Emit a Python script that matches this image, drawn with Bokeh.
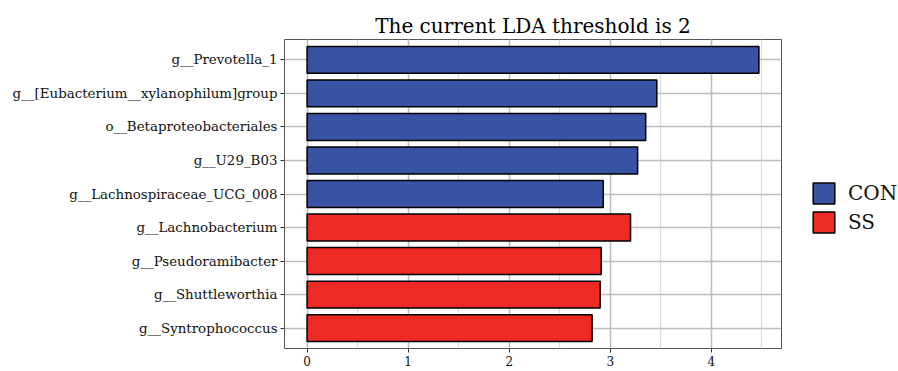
from bokeh.plotting import figure
from bokeh.layouts import row
from bokeh.models import (FactorRange, Range1d, SingleIntervalTicker, Legend, LegendItem,
                          ColumnDataSource)
from bokeh.embed import file_html
from bokeh.resources import INLINE

# Data (top to bottom as in the chart)
taxa = ["g__Prevotella_1", "g__[Eubacterium__xylanophilum]group", "o__Betaproteobacteriales",
        "g__U29_B03", "g__Lachnospiraceae_UCG_008", "g__Lachnobacterium",
        "g__Pseudoramibacter", "g__Shuttleworthia", "g__Syntrophococcus"]
lda = [4.47, 3.46, 3.35, 3.27, 2.93, 3.20, 2.91, 2.90, 2.82]
group = ["CON", "CON", "CON", "CON", "CON", "SS", "SS", "SS", "SS"]
groups = ["CON", "SS"]
colors = {"CON": "#3953A4", "SS": "#EE2A24"}
x_ticks = [0, 1, 2, 3, 4]

FONT = "DejaVu Serif"

p = figure(width=782, height=371, output_backend="svg", toolbar_location=None,
           y_range=FactorRange(factors=list(reversed(taxa)), range_padding=0.11,
                               range_padding_units="absolute"),
           x_range=Range1d(-0.2235, 4.6935),
           min_border_left=284, min_border_right=1, min_border_top=39, min_border_bottom=23,
           title="The current LDA threshold is 2")

sources = {}
for g in groups:
    sources[g] = ColumnDataSource(dict(y=[t for t, gg in zip(taxa, group) if gg == g],
                                       right=[v for v, gg in zip(lda, group) if gg == g]))
    p.hbar(y="y", left=0, right="right", height=0.8, source=sources[g],
           fill_color=colors[g], line_color="black", line_width=1.5)

p.title.text_font = FONT
p.title.text_font_size = "20px"
p.title.text_font_style = "normal"
p.title.align = "center"
p.title.text_color = "black"
p.title.standoff = 4

p.xaxis.ticker = SingleIntervalTicker(interval=1, num_minor_ticks=2)
p.xaxis.minor_tick_line_color = None
p.xaxis.axis_line_color = None
p.yaxis.axis_line_color = None
for ax in (p.xaxis[0], p.yaxis[0]):
    ax.major_tick_line_color = "#333333"
    ax.major_tick_out = 4
    ax.major_tick_in = 0
    ax.major_label_text_font = FONT
    ax.major_label_text_color = "#111111"
    ax.major_label_standoff = 3
p.xaxis.major_label_text_font_size = "12px"
p.yaxis.major_label_text_font_size = "13.4px"

p.xgrid.grid_line_color = "#bdbdbd"
p.xgrid.grid_line_width = 1.5
p.xgrid.minor_grid_line_color = "#dcdcdc"
p.xgrid.minor_grid_line_width = 1.2
p.ygrid.grid_line_color = "#bdbdbd"
p.ygrid.grid_line_width = 1.5
p.outline_line_color = "#555555"
p.outline_line_width = 1

# Legend panel (separate figure to the right of the plot)
lg = figure(width=116, height=371, output_backend="svg", toolbar_location=None,
            x_range=Range1d(0, 1), y_range=FactorRange(factors=list(reversed(taxa))),
            x_axis_location=None, y_axis_location=None,
            min_border_left=0, min_border_right=0, min_border_top=0, min_border_bottom=0)
lg.outline_line_color = None
lg.xgrid.visible = False
lg.ygrid.visible = False
items = []
for g in groups:
    r = lg.hbar(y="y", left=0, right="right", height=0.8, source=sources[g],
                fill_color=colors[g], line_color="black", line_width=1.5, visible=False)
    items.append(LegendItem(label=g, renderers=[r]))
legend = Legend(items=items, location=(28, 113), orientation="vertical",
                glyph_width=27, glyph_height=26, spacing=3, padding=0, margin=0,
                label_standoff=11, label_text_align="left",
                label_text_font=FONT, label_text_font_size="20px",
                label_text_color="#111111",
                border_line_color=None, background_fill_alpha=0)
lg.add_layout(legend, "center")

layout = row(p, lg, spacing=0)
open("out.html", "w").write(file_html(layout, INLINE))
